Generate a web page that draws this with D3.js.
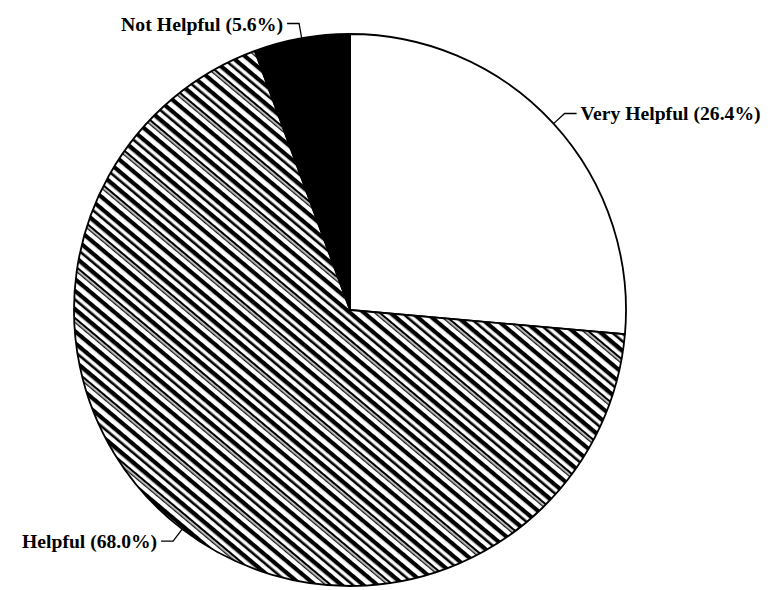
<!DOCTYPE html>
<html>
<head>
<meta charset="utf-8">
<script src="https://cdn.jsdelivr.net/npm/d3@7"></script>
<style>
  html, body { margin: 0; padding: 0; background: #fff; }
  svg { display: block; }
  .label { font-family: "Liberation Serif", "DejaVu Serif", serif; font-weight: bold; font-size: 19px; fill: #000; }
</style>
</head>
<body>
<div id="chart"></div>
<script>
const WIDTH = 771;
const HEIGHT = 590;

// slices, clockwise from 12 o'clock
const categories = ['Very Helpful', 'Helpful', 'Not Helpful'];
const percents = [26.4, 68.0, 5.6];
const fills = ['#fff', 'url(#hatch)', '#000'];

const cx = 350, cy = 310, R = 276;
const CHAR_W = 9.0; // the plotter lettering is narrow

const svg = d3.select('#chart').append('svg')
  .attr('width', WIDTH)
  .attr('height', HEIGHT)
  .attr('viewBox', [0, 0, WIDTH, HEIGHT]);

// irregular diagonal hatching, like the plotter fill
const pat = svg.append('defs').append('pattern')
  .attr('id', 'hatch')
  .attr('patternUnits', 'userSpaceOnUse')
  .attr('width', 40)
  .attr('height', 40)
  .attr('patternTransform', 'rotate(40)');
pat.append('rect').attr('width', 40).attr('height', 40).attr('fill', '#fff');
[[0, 4.2], [7.5, 2.6], [14, 4.4], [22, 2.2], [25.6, 1.3], [31, 4.2]].forEach(([y, h]) => {
  pat.append('rect').attr('x', 0).attr('y', y).attr('width', 40).attr('height', h).attr('fill', '#000');
});

const pie = d3.pie().sort(null).value((d) => d)(percents);
const arc = d3.arc().innerRadius(0).outerRadius(R);

const g = svg.append('g').attr('transform', `translate(${cx},${cy})`);

g.selectAll('path.slice')
  .data(pie)
  .enter().append('path')
  .attr('class', 'slice')
  .attr('d', arc)
  .attr('fill', (d, i) => fills[i])
  .attr('stroke', '#000')
  .attr('stroke-width', 1.8)
  .attr('stroke-linejoin', 'round');

// leaders from the rim at each slice's mid-angle, then a short horizontal tick
const pt = (a, r) => [r * Math.sin(a), -r * Math.cos(a)];

pie.forEach((d, i) => {
  const mid = (d.startAngle + d.endAngle) / 2;
  const right = Math.sin(mid) > 0;
  const p0 = pt(mid, R);
  const p1 = pt(mid, R + 15);
  const p2 = [p1[0] + (right ? 12 : -12), p1[1]];

  g.append('path')
    .attr('d', d3.line()([p0, p1, p2]))
    .attr('fill', 'none')
    .attr('stroke', '#000')
    .attr('stroke-width', 1.3);

  const label = `${categories[i]} (${percents[i].toFixed(1)}%)`;
  g.append('text')
    .attr('class', 'label')
    .attr('x', p2[0] + (right ? 4 : -4))
    .attr('y', p2[1] + 7)
    .attr('text-anchor', right ? 'start' : 'end')
    .attr('textLength', label.length * CHAR_W)
    .attr('lengthAdjust', 'spacingAndGlyphs')
    .text(label);
});
</script>
</body>
</html>
